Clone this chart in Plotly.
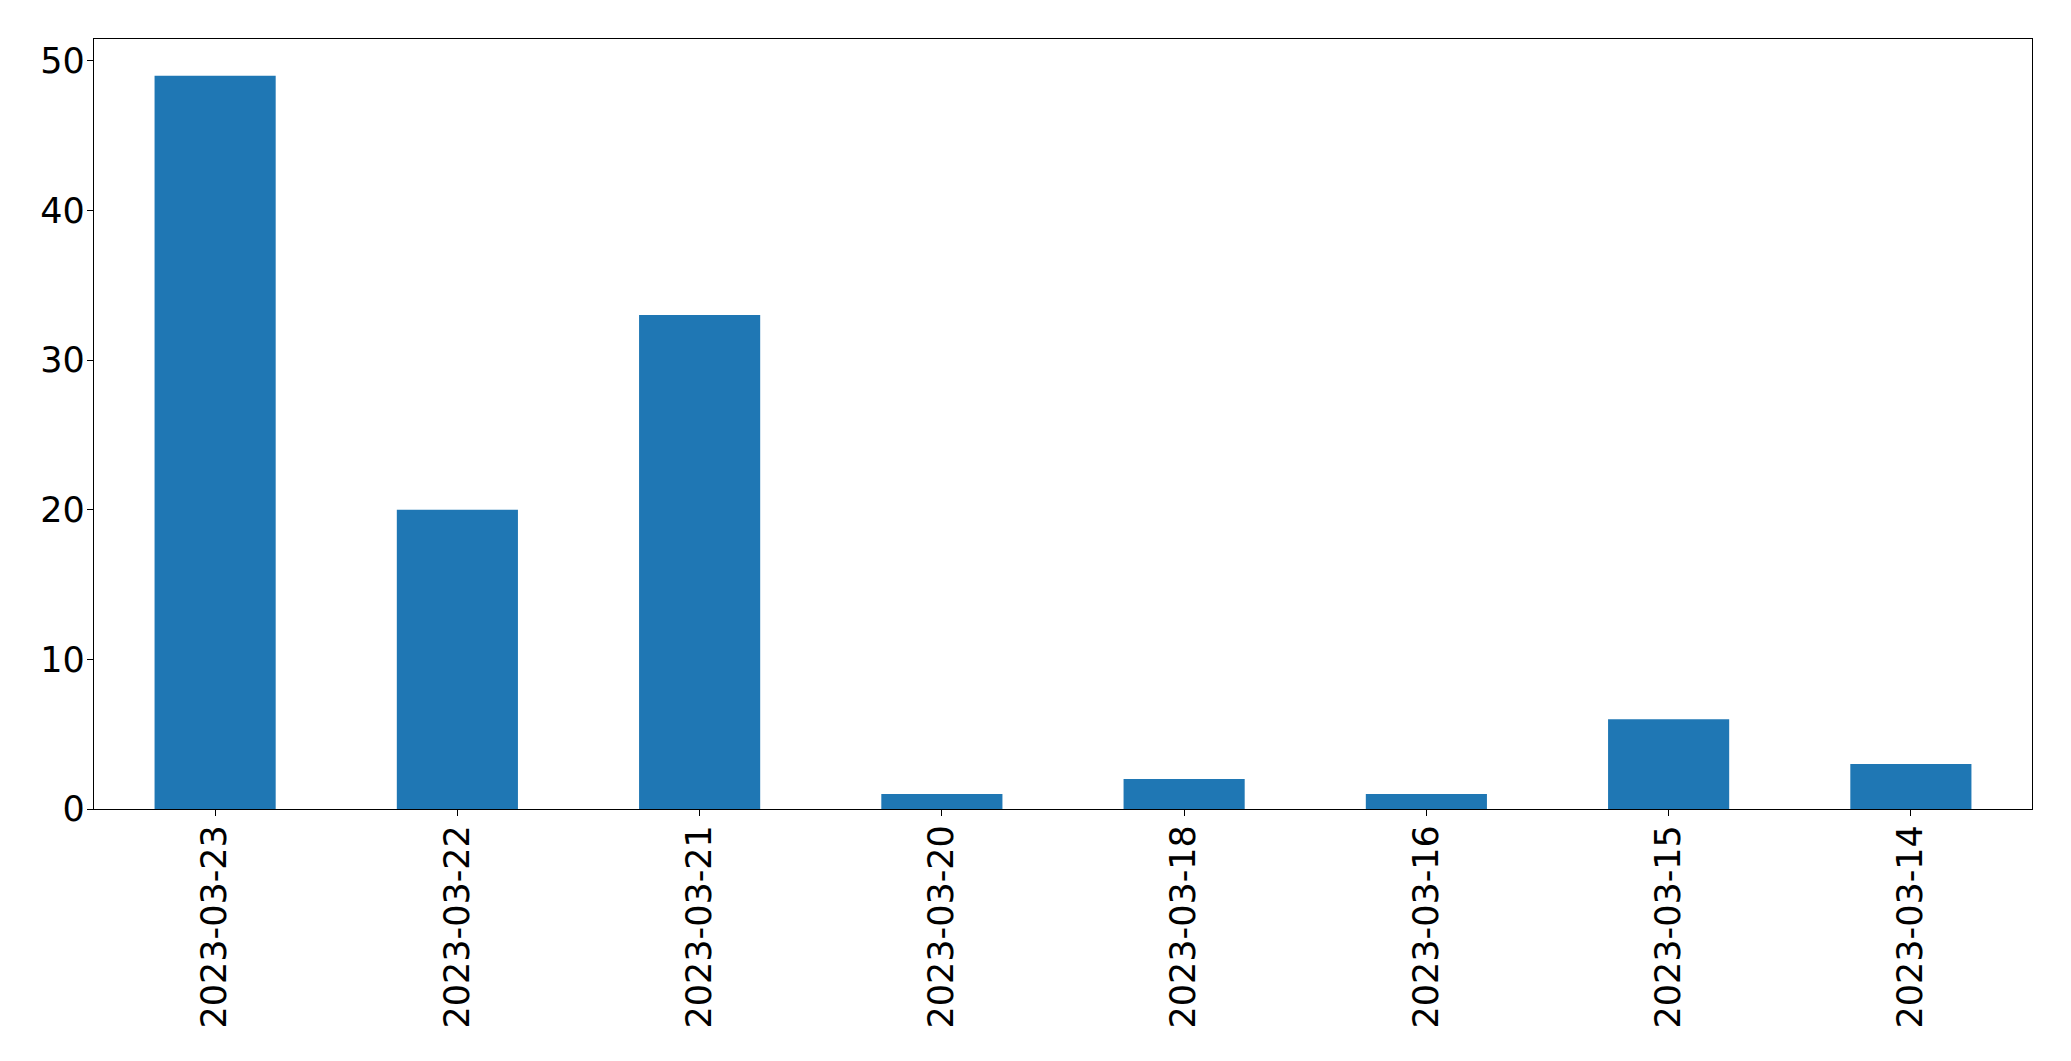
import plotly.graph_objects as go

# counts per day, newest first (as in the source)
dates = ["2023-03-23", "2023-03-22", "2023-03-21", "2023-03-20",
         "2023-03-18", "2023-03-16", "2023-03-15", "2023-03-14"]
counts = [49, 20, 33, 1, 2, 1, 6, 3]
y_ticks = [0, 10, 20, 30, 40, 50]

fig = go.Figure(go.Bar(x=dates, y=counts, width=0.5, marker_color="#1f77b4",
                       marker_line_width=0))

axis_style = dict(showline=True, linecolor="black", linewidth=1.3, mirror=True,
                  ticks="outside", ticklen=6, tickwidth=1.3, tickcolor="black",
                  showgrid=False, zeroline=False,
                  tickfont=dict(family="DejaVu Sans", size=35, color="black"))

fig.update_xaxes(type="category", range=[-0.5, len(dates) - 0.5], tickangle=-90,
                 ticklabelstandoff=-5, **axis_style)
fig.update_yaxes(range=[0, max(counts) * 1.05], tickvals=y_ticks,
                 ticklabelstandoff=-5, **axis_style)

# page body adds 8px around the div
fig.update_layout(width=2055, height=1045, plot_bgcolor="white", paper_bgcolor="white",
                  margin=dict(l=86, r=31, t=31, b=244, autoexpand=False), showlegend=False)

fig.write_html("out.html")
